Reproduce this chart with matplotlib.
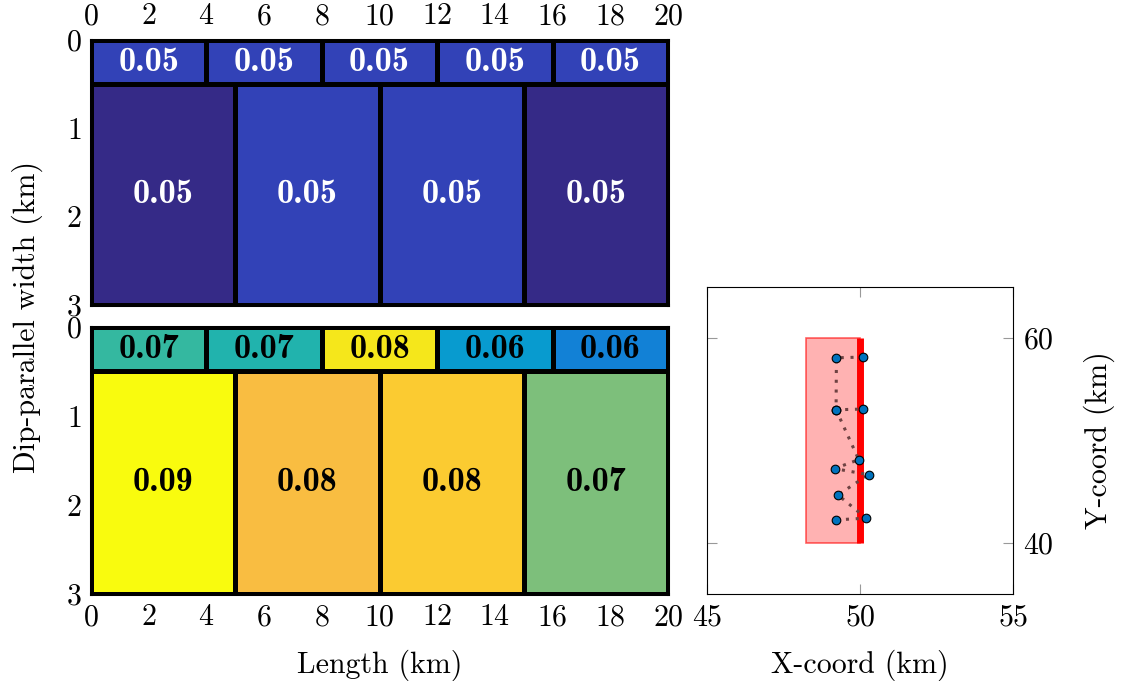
import matplotlib
matplotlib.use('Agg')
import matplotlib.pyplot as plt
from matplotlib.colors import LinearSegmentedColormap, Normalize
from matplotlib.patches import Rectangle

plt.rcParams['font.family'] = 'serif'
plt.rcParams['font.serif'] = ['cmr10']
plt.rcParams['mathtext.fontset'] = 'cm'
plt.rcParams['axes.formatter.use_mathtext'] = True
plt.rcParams['font.size'] = 21.5

# patch geometry along strike / down dip (km)
strip_edges = [0, 4, 8, 12, 16, 20]
deep_edges = [0, 5, 10, 15, 20]
depth_edges = [0, 0.5, 3]

# slip values for each patch, shallow strip then deep patches
upper_strip = [0.0493, 0.0493, 0.0493, 0.0493, 0.0493]
upper_deep = [0.0468, 0.0493, 0.0493, 0.0468]
lower_strip = [0.0665, 0.0652, 0.0846, 0.0598, 0.0563]
lower_deep = [0.0868, 0.0795, 0.0814, 0.0706]

# fault trace in map view (km)
fault_west = 48.25
fault_east = 50.0
fault_south = 40.0
fault_north = 60.0

# station chains in map view
chain_a_x = [50.11, 49.23, 49.22, 50.10]
chain_a_y = [58.15, 58.08, 53.00, 53.07]
chain_b_x = [49.22, 49.96, 49.17, 50.28, 49.28, 50.20, 49.23]
chain_b_y = [53.00, 48.13, 47.25, 46.66, 44.68, 42.41, 42.24]

# parula-like colormap
parula = LinearSegmentedColormap.from_list('parula', [
    (0.2081, 0.1663, 0.5292), (0.1959, 0.2645, 0.7279), (0.0117, 0.3875, 0.8820),
    (0.0498, 0.4586, 0.8641), (0.0793, 0.5200, 0.8312), (0.0343, 0.5966, 0.8199),
    (0.0228, 0.6535, 0.7768), (0.0843, 0.6928, 0.7062), (0.2178, 0.7250, 0.6193),
    (0.3953, 0.7459, 0.5244), (0.5709, 0.7485, 0.4494), (0.7184, 0.7411, 0.3905),
    (0.8507, 0.7299, 0.3360), (0.9739, 0.7314, 0.2666), (0.9880, 0.8066, 0.1794),
    (0.9589, 0.8949, 0.1132), (0.9763, 0.9831, 0.0538)])
norm = Normalize(vmin=0.0468, vmax=0.0868)

fig = plt.figure(figsize=(11.22, 6.81), dpi=100)
ax_top = fig.add_axes([0.0811, 0.5521, 0.5143, 0.3891])
ax_bot = fig.add_axes([0.0811, 0.1278, 0.5143, 0.3921])
ax_map = fig.add_axes([0.6301, 0.1278, 0.2727, 0.4508])


def draw_slip(ax, strip, deep, text_color):
    for edges, vals, (d0, d1) in [(strip_edges, strip, depth_edges[:2]),
                                  (deep_edges, deep, depth_edges[1:])]:
        ax.pcolormesh(edges, [d0, d1], [vals], cmap=parula, norm=norm,
                      edgecolors='black', linewidth=2.2)
        for i, v in enumerate(vals):
            ax.text((edges[i] + edges[i + 1]) / 2, (d0 + d1) / 2, f'{v:.2f}',
                    ha='center', va='center', color=text_color,
                    family='cmb10', fontsize=24.5)
    ax.set_xlim(0, 20)
    ax.set_ylim(3, 0)
    ax.set_xticks(range(0, 21, 2))
    ax.set_yticks([0, 1, 2, 3])
    ax.set_axisbelow(True)
    ax.tick_params(direction='in', length=4, color='#999999', pad=7)
    for s in ax.spines.values():
        s.set_linewidth(2.2)


draw_slip(ax_top, upper_strip, upper_deep, 'white')
draw_slip(ax_bot, lower_strip, lower_deep, 'black')
ax_top.xaxis.tick_top()
ax_top.tick_params(pad=7)
ax_bot.set_xlabel('Length (km)', labelpad=13)
fig.text(0.024, 0.535, 'Dip-parallel width (km)', rotation=90,
         ha='center', va='center', fontsize=21.5)

# map view of the fault
ax_map.add_patch(Rectangle((fault_west, fault_south), fault_east - fault_west,
                           fault_north - fault_south, facecolor=(1, 0, 0, 0.3),
                           edgecolor=(1, 0, 0, 0.6), linewidth=1.2))
ax_map.plot([fault_east, fault_east], [fault_south, fault_north],
            color='red', linewidth=5, solid_capstyle='butt')
for xs, ys in [(chain_a_x, chain_a_y), (chain_b_x, chain_b_y)]:
    ax_map.plot(xs, ys, color='#6e4242', linewidth=2.2,
                linestyle=(0, (1, 2.2)))
ax_map.plot(chain_a_x + chain_b_x, chain_a_y + chain_b_y, 'o', color='#0072bd',
            markersize=6.2, markeredgecolor='black', markeredgewidth=0.8)
ax_map.set_xlim(45, 55)
ax_map.set_ylim(35, 65)
ax_map.set_xticks([45, 50, 55])
ax_map.set_yticks([40, 60])
ax_map.tick_params(direction='in', length=7.5, width=0.8, color='#999999',
                   top=True, right=True, left=True, labelleft=False,
                   labelright=True, pad=7)
ax_map.yaxis.set_label_position('right')
ax_map.set_xlabel('X-coord (km)', labelpad=13)
ax_map.set_ylabel('Y-coord (km)', labelpad=22)
for s in ax_map.spines.values():
    s.set_linewidth(0.8)

fig.savefig('out.png', dpi=100)
